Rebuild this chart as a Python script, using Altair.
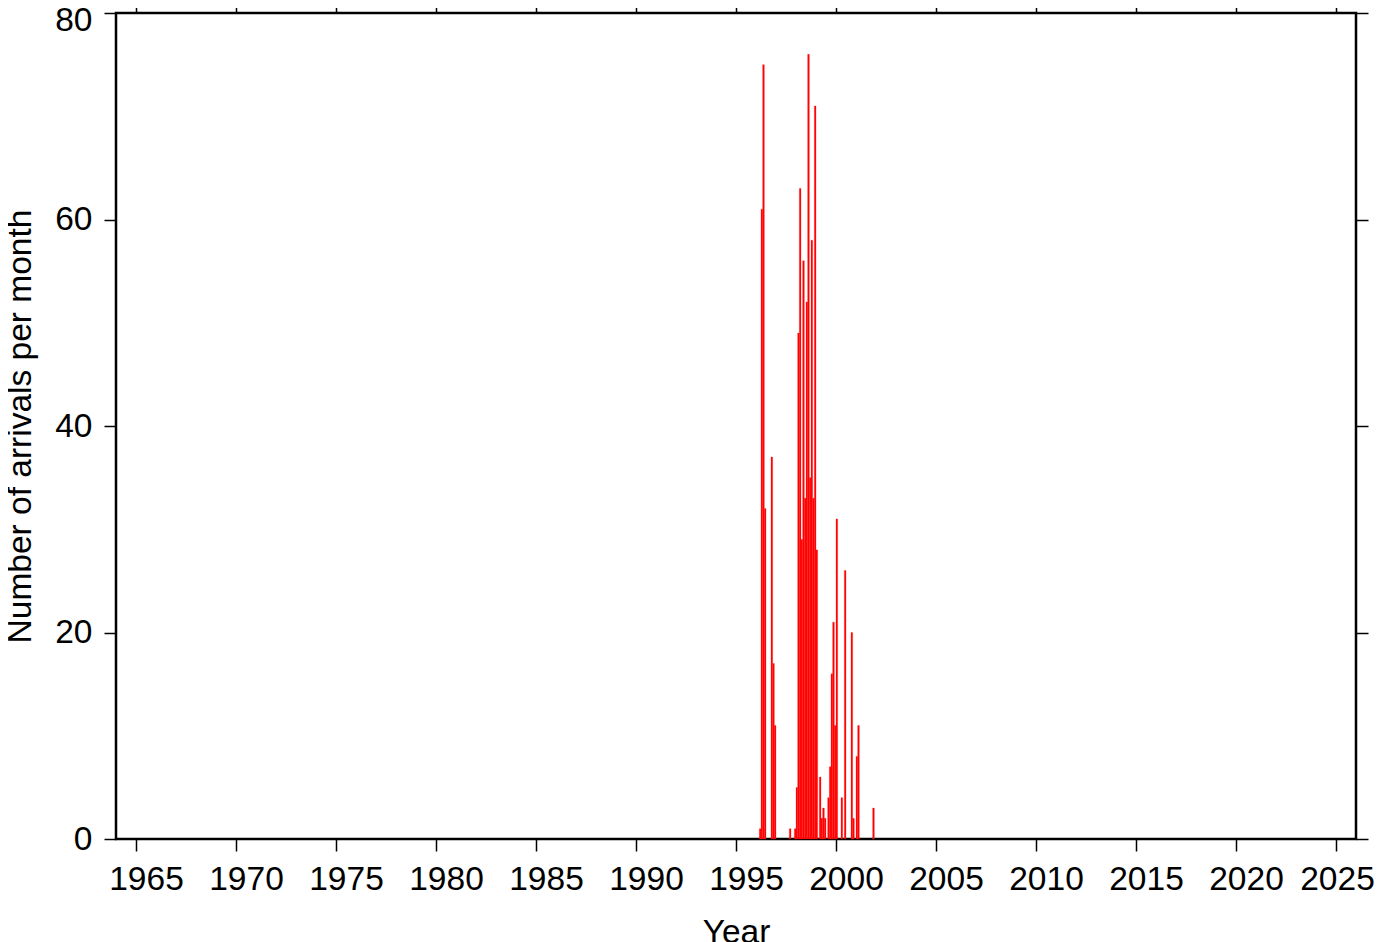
import altair as alt
import pandas as pd

# Monthly arrival counts (months with no arrivals are omitted)
years = [1996, 1996, 1996, 1996, 1996, 1996, 1996,
         1997, 1997,
         1998, 1998, 1998, 1998, 1998, 1998, 1998, 1998, 1998, 1998, 1998, 1998,
         1999, 1999, 1999, 1999, 1999, 1999, 1999, 1999, 1999, 1999,
         2000, 2000, 2000, 2000, 2000,
         2001, 2001, 2001]
months = [3, 4, 5, 6, 10, 11, 12,
          9, 12,
          1, 2, 3, 4, 5, 6, 7, 8, 9, 10, 11, 12,
          1, 3, 4, 5, 6, 8, 9, 10, 11, 12,
          1, 4, 6, 10, 11,
          1, 2, 11]
counts = [1, 61, 75, 32, 37, 17, 11,
          1, 1,
          5, 49, 63, 29, 56, 33, 52, 76, 35, 58, 33, 71,
          28, 6, 2, 3, 2, 4, 7, 16, 21, 11,
          31, 4, 26, 20, 2,
          8, 11, 3]

x_ticks = list(range(1965, 2026, 5))
y_ticks = [0, 20, 40, 60, 80]

df = pd.DataFrame({"year": years, "month": months, "count": counts})

FONT = "Liberation Sans"
FS = 33.5
x_scale = alt.Scale(domain=[1964, 2026], nice=False, zero=False)
y_scale = alt.Scale(domain=[0, 80], nice=False)

base = alt.Chart(df).transform_calculate(
    x0="datum.year + (datum.month - 1) / 12",
    x1="datum.year + datum.month / 12",
)

bars = base.mark_bar(color="#ff0000", stroke="#ff1a1a", strokeWidth=0.3).encode(
    x=alt.X("x0:Q", scale=x_scale,
            axis=alt.Axis(orient="bottom", values=x_ticks, format="d", title="Year",
                          titlePadding=21,
                          labelOffset={"condition": {"test": "datum.value === 2025", "value": 1},
                                       "value": 10})),
    x2="x1:Q",
    y=alt.Y("count:Q", scale=y_scale,
            axis=alt.Axis(orient="left", values=y_ticks, format="d",
                          title="Number of arrivals per month", titlePadding=17,
                          labelOffset={"condition": {"test": "datum.value === 80", "value": 7},
                                       "value": 0})),
    y2=alt.datum(0),
)

frame = base.mark_point(opacity=0).encode(
    x=alt.X("x0:Q", scale=x_scale,
            axis=alt.Axis(orient="top", values=x_ticks, labels=False, title="")),
    y=alt.Y("count:Q", scale=y_scale,
            axis=alt.Axis(orient="right", values=y_ticks, labels=False, title="")),
)

chart = (
    alt.layer(bars, frame)
    .resolve_axis(x="independent", y="independent")
    .properties(
        width=1240,
        height=826,
        padding={"left": 108, "top": 5, "right": 18, "bottom": 103},
        autosize=alt.AutoSizeParams(type="none"),
    )
    .configure_view(stroke="black", strokeWidth=2.5)
    .configure_axis(
        grid=False,
        domain=False,
        tickColor="black",
        tickWidth=1.5,
        tickSize=12,
        labelFont=FONT,
        labelFontSize=FS,
        labelColor="black",
        labelPadding=12,
        labelFlush=False,
        labelOverlap=False,
        titleFont=FONT,
        titleFontSize=FS,
        titleFontWeight="normal",
        titleColor="black",
    )
)

chart.save("out.html", embed_options={"renderer": "svg", "actions": False})
